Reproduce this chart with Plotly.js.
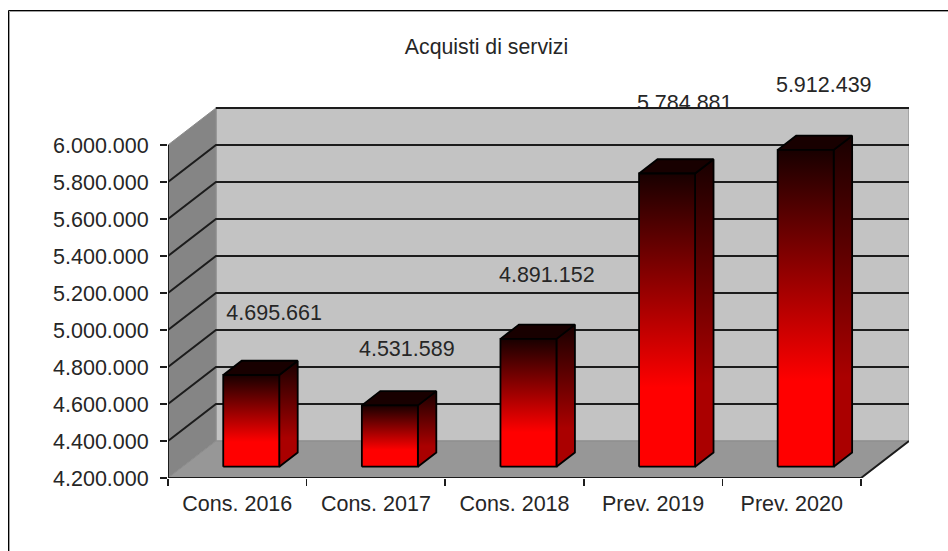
<!DOCTYPE html>
<html><head><meta charset="utf-8">
<script src="https://cdn.plot.ly/plotly-3.0.1.min.js"></script>
<style>html,body{margin:0;padding:0;background:#fff}#c{width:948px;height:551px}</style>
</head><body><div id="c"></div>
<script>
const categories = ["Cons. 2016","Cons. 2017","Cons. 2018","Prev. 2019","Prev. 2020"];
const values = [4695661,4531589,4891152,5784881,5912439];
const valueLabels = ["4.695.661","4.531.589","4.891.152","5.784.881","5.912.439"];
const tickValues = [4200000,4400000,4600000,4800000,5000000,5200000,5400000,5600000,5800000,6000000];
const tickLabels = ["4.200.000","4.400.000","4.600.000","4.800.000","5.000.000","5.200.000","5.400.000","5.600.000","5.800.000","6.000.000"];
const labelRise = [389000,359000,399000,433000,403000];
const labelShiftX = [-0.08,-0.123,-0.113,-0.118,-0.115];
const labelsBehindWall = [3];

const yMin=4200000, yWall=6000000, yMax=6400000, step=200000, ox=0.346, n=categories.length;
const d0=0.305, d1=0.69, gap=0.293, bw=0.404;
const font="Liberation Sans, Arial, sans-serif", txt="#262626", fs=21.5;
const proj=(c,v,d)=>[c+d*ox, v+d*step];
function poly(pts,o){
  const xs=pts.map(p=>p[0]), ys=pts.map(p=>p[1]);
  return Object.assign({type:'scatter',mode:'lines',x:xs.concat(xs[0]),y:ys.concat(ys[0]),fill:'toself',
    hoverinfo:'skip',showlegend:false,cliponaxis:false},o);
}
function labelTrace(idx){
  return {type:'scatter',mode:'text',x:idx.map(i=>i+0.5+ox+labelShiftX[i]),y:idx.map(i=>values[i]+labelRise[i]),
    text:idx.map(i=>valueLabels[i]),textposition:'middle center',textfont:{family:font,size:fs,color:txt},
    cliponaxis:false,showlegend:false,hoverinfo:'skip'};
}
const traces=[];
// the tall label is partly covered by the back wall, as in the original
traces.push(labelTrace(labelsBehindWall));
// back wall, side wall, floor
traces.push(poly([proj(0,yMin,1),proj(n,yMin,1),proj(n,yWall,1),proj(0,yWall,1)],{fillcolor:'#c3c3c3',line:{color:'#9a9a9a',width:1.5}}));
traces.push(poly([proj(0,yMin,0),proj(0,yMin,1),proj(0,yWall,1),proj(0,yWall,0)],{fillcolor:'#858585',line:{color:'#8c8c8c',width:1}}));
traces.push(poly([proj(0,yMin,0),proj(n,yMin,0),proj(n,yMin,1),proj(0,yMin,1)],{fillcolor:'#979797',line:{color:'#8c8c8c',width:1}}));
// gridlines
const gx=[],gy=[];
tickValues.slice(1,-1).forEach(v=>{
  const a=proj(0,v,0),b=proj(0,v,1),c=proj(n,v,1);
  gx.push(a[0],b[0],c[0],null); gy.push(a[1],b[1],c[1],null);
});
const t1=proj(0,yWall,1),t2=proj(n,yWall,1);
gx.push(t1[0],t2[0],null); gy.push(t1[1],t2[1],null);
traces.push({type:'scatter',mode:'lines',x:gx,y:gy,line:{color:'#1c1c1c',width:2},hoverinfo:'skip',showlegend:false,cliponaxis:false});
// bars
const edge={color:'#000',width:1.8};
values.forEach((v,i)=>{
  const L=i+gap,R=L+bw;
  traces.push(poly([proj(R,yMin,d0),proj(R,yMin,d1),proj(R,v,d1),proj(R,v,d0)],{line:edge,fillgradient:{type:'vertical',colorscale:[[0,'#aa0000'],[0.27,'#aa0000'],[1,'#180000']]}}));
  traces.push(poly([proj(L,v,d0),proj(R,v,d0),proj(R,v,d1),proj(L,v,d1)],{line:edge,fillcolor:'#180000'}));
  traces.push(poly([proj(L,yMin,d0),proj(R,yMin,d0),proj(R,v,d0),proj(L,v,d0)],{line:edge,fillgradient:{type:'vertical',colorscale:[[0,'#ff0000'],[0.27,'#ff0000'],[1,'#180000']]}}));
});
// front edges
traces.push({type:'scatter',mode:'lines',x:[0,0,null,0,n,n+ox],y:[yMin,yWall,null,yMin,yMin,yMin+step],line:{color:'#1c1c1c',width:2},hoverinfo:'skip',showlegend:false,cliponaxis:false});
traces.push(labelTrace(values.map((v,i)=>i).filter(i=>!labelsBehindWall.includes(i))));

const marginTop=71, plotH=407;
const frame=(px,py,c)=>({type:'rect',xref:'paper',yref:'paper',x0:(px-168)/741,x1:(1100-168)/741,y0:-1,y1:1+(marginTop-py)/plotH,line:{color:c,width:1},fillcolor:'rgba(0,0,0,0)',layer:'below'});
const layout={
  width:948,height:551,margin:{l:168,r:39,t:marginTop,b:73,pad:0},
  paper_bgcolor:'#fff',plot_bgcolor:'rgba(0,0,0,0)',showlegend:false,
  title:{text:'Acquisti di servizi',font:{family:font,size:21.3,color:txt},x:486.5/948,xanchor:'center',y:1-47/551,yanchor:'middle'},
  xaxis:{range:[0,n+ox],showgrid:false,zeroline:false,showline:false,fixedrange:true,
    tickmode:'array',tickvals:categories.map((c,i)=>i+0.5),ticktext:categories,ticks:'',ticklabelstandoff:10,
    minor:{tickmode:'array',tickvals:[0,1,2,3,4,5],ticks:'outside',ticklen:7,tickcolor:'#1c1c1c',tickwidth:1.5,showgrid:false},
    tickfont:{family:font,size:fs,color:txt}},
  yaxis:{range:[yMin,yMax],showgrid:false,zeroline:false,showline:false,fixedrange:true,ticklabelstandoff:7,
    tickmode:'array',tickvals:tickValues,ticktext:tickLabels,ticks:'outside',ticklen:7,tickcolor:'#1c1c1c',tickwidth:1.5,
    tickfont:{family:font,size:fs,color:txt}},
  shapes:[frame(9.5,11.5,'#a0a0a0'),frame(8.5,10.5,'#000')]
};
Plotly.newPlot('c',traces,layout,{displayModeBar:false,staticPlot:true});
</script></body></html>
